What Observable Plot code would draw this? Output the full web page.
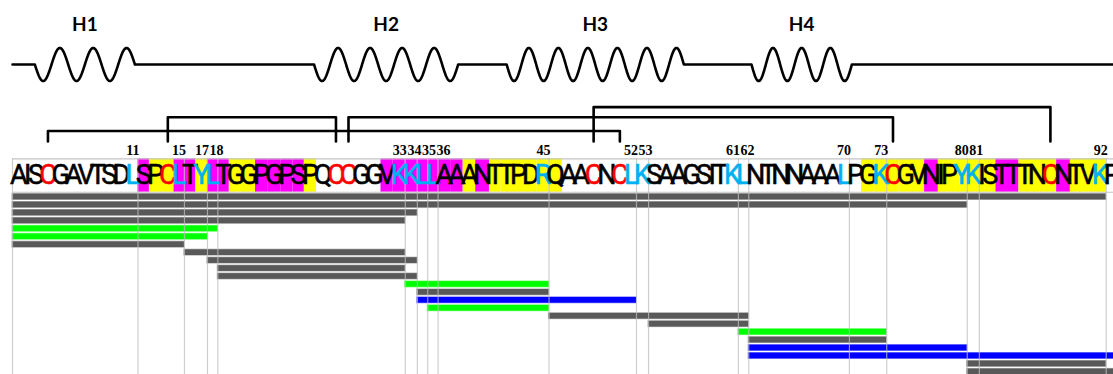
<!DOCTYPE html>
<html><head><meta charset="utf-8">
<script src="https://cdn.jsdelivr.net/npm/d3@7"></script>
<script src="https://cdn.jsdelivr.net/npm/@observablehq/plot@0.6"></script>
<style>
body{margin:0;background:#fff}
#chart{width:1113px;height:374px;overflow:hidden}
</style>
</head><body><div id="chart"></div>
<script>
// ---------------- data ----------------
const sequence = "AISCGAVTSDL" + "SPCLTYLTGGPGPSP" + "QCCGG" + "VKKLLAA" + "A" + "N" + "TTPDRQ" +
  "AACNCLKSAAGSITKLNTNNAAALP" + "GKCGV" + "N" + "IPYKIS" + "TT" + "TNC" + "N" + "TVK" + "P";
// residue background class: m = magenta, y = yellow, . = none
const highlight = "..........." + "myymmymmyymmmmy" + "....." + "mmmmmmm" + "y" + "m" + "yyyyyy" +
  "........................." + "yyyyy" + "m" + "yyyyyy" + "mm" + "yyy" + "m" + "yyy" + ".";
const siteLabels = [11, 15, 17, 18, 33, 34, 35, 36, 45, 52, 53, 61, 62, 70, 73, 80, 81, 92];

const helixNames = ["H1", "H2", "H3", "H4"];
const helixStart = [2.4, 25.8, 41.5, 62.2];
const helixEnd = [10.7, 37.6, 55.9, 70.2];
const helixHalfTurns = [6, 9, 12, 7];

const bondFrom = [4, 14, 29, 49];
const bondTo = [51, 28, 74, 88];

const pepStart = [1, 1, 1, 1, 1, 1, 1, 16, 18, 19, 19, 34, 35, 35, 36, 46, 54, 62, 63, 63, 63, 81, 81];
const pepEnd   = [92, 80, 34, 33, 18, 17, 15, 33, 34, 33, 34, 45, 45, 52, 45, 62, 62, 73, 73, 80, 93, 92, 93];
const pepType  = ["grey","grey","grey","grey","green","green","grey","grey","grey","grey","grey",
                  "green","grey","blue","green","grey","grey","green","grey","blue","blue","grey","grey"];

// ---------------- styles / layout ----------------
const typeColor = {grey: "#595959", green: "#00ff00", blue: "#0000ff"};
const hlColor = {m: "#ff00ff", y: "#ffff00"};
const RED = "#ff0000", CYAN = "#00b0f0";
const W = 1113, H = 374;
// vertical layout in "peptide row" units
const L = {
  yTop: -24.72, yBottom: 22.33,
  helixLabel: -21.7, helixBase: -16.67, helixAmp: 2.08,
  bondTier: [-8.30, -10.04, -10.04, -11.31], legBottom: -6.98,
  labelMid: -5.79, boxTop: -4.80, boxBottom: -0.60, seqMid: -2.74,
  barHalf: 0.36
};
const seqLeft = 12, seqRight92 = 1105.7;
const seqFont = "'Liberation Sans Narrow', Roboto, sans-serif", seqSize = 27, seqWeight = 400, glyphFill = 0.95;

// ---------------- text measurement (same renderer as the chart) ----------------
function measure(strings, family, size, weight) {
  const ns = "http://www.w3.org/2000/svg";
  const s = document.createElementNS(ns, "svg");
  s.setAttribute("width", 10); s.setAttribute("height", 10);
  s.style.position = "absolute"; s.style.left = "-9999px";
  document.body.appendChild(s);
  const out = strings.map(str => {
    const t = document.createElementNS(ns, "text");
    t.setAttribute("font-family", family);
    t.setAttribute("font-size", size);
    t.setAttribute("font-weight", weight);
    t.textContent = str;
    s.appendChild(t);
    return t.getComputedTextLength();
  });
  s.remove();
  return out;
}

// ---------------- derived ----------------
const widths = measure(Array.from(sequence), seqFont, seqSize, seqWeight);
const squeeze = (seqRight92 - seqLeft) / d3.sum(widths.slice(0, 92));
const bounds = [seqLeft];
widths.forEach(v => bounds.push(bounds[bounds.length - 1] + v * squeeze));
const xDomain = d3.range(sequence.length + 1);
const xs = d3.scaleLinear().domain(xDomain).range(bounds);

const residues = Array.from(sequence, (aa, k) => ({
  i: k + 1, aa, hl: highlight[k],
  color: aa === "C" ? RED : siteLabels.includes(k + 1) ? CYAN : "#000"
}));

const labelWidths = measure(siteLabels.map(String), "Liberation Serif", 14, "bold");
let prevRight = -Infinity;
const labelData = siteLabels.map((n, j) => {
  const wl = labelWidths[j];
  let right = xs(n) + 1.5;
  if (right - wl < prevRight + 0.6) right = prevRight + 0.6 + wl;
  prevRight = right;
  return {n, x: xs.invert(right)};
});

const peptides = pepStart.map((s, r) => ({start: s, end: pepEnd[r], type: pepType[r], row: r}));

// helix backbone path (in residue units)
const backbone = [{x: 0, y: L.helixBase}];
helixNames.forEach((name, h) => {
  const p0 = xs(helixStart[h]), p1 = xs(helixEnd[h]), k = helixHalfTurns[h];
  const n = 40 * k;
  for (let j = 0; j <= n; j++) {
    const t = j / n, th = -Math.PI / 2 + t * k * Math.PI;
    backbone.push({x: xs.invert(p0 + t * (p1 - p0)), y: L.helixBase + L.helixAmp * Math.cos(th)});
  }
});
backbone.push({x: sequence.length + 1, y: L.helixBase});

const helices = helixNames.map((name, h) => ({name, x: (xs.invert((xs(helixStart[h]) + xs(helixEnd[h])) / 2))}));

const bondPts = [];
bondFrom.forEach((a, b) => {
  const c1 = a - 0.5, c2 = bondTo[b] - 0.5, tier = L.bondTier[b];
  bondPts.push({b, x: c1, y: L.legBottom}, {b, x: c1, y: tier}, {b, x: c2, y: tier}, {b, x: c2, y: L.legBottom});
});

// ---------------- plot ----------------
const plot = Plot.plot({
  width: W, height: H, margin: 0,
  x: {type: "linear", domain: xDomain, range: bounds, axis: null},
  y: {type: "linear", domain: [L.yTop, L.yBottom], range: [0, H], axis: null},
  color: {type: "identity"},
  style: {background: "#fff"},
  marks: [
    Plot.rect(residues.filter(d => d.hl !== "."), {
      x1: d => d.i - 1, x2: d => d.i, y1: () => L.boxTop, y2: () => L.boxBottom,
      fill: d => hlColor[d.hl]
    }),
    Plot.ruleY([L.boxTop, L.boxBottom], {x1: 0, x2: sequence.length + 1, stroke: "#c4c4c4", strokeWidth: 1.2}),
    Plot.rect(peptides, {
      x1: d => d.start - 1, x2: d => d.end,
      y1: d => d.row - L.barHalf, y2: d => d.row + L.barHalf,
      fill: d => typeColor[d.type], stroke: d => typeColor[d.type], strokeOpacity: 0.45, strokeWidth: 1.2
    }),
    Plot.ruleX([0, ...siteLabels], {y1: L.boxTop, y2: L.yBottom, stroke: "#bdbdbd", strokeOpacity: 0.75, strokeWidth: 1.2}),
    Plot.text(residues, {
      x: d => d.i - 0.5, y: () => L.seqMid, text: "aa", fill: "color", stroke: "color", strokeWidth: 0.55,
      fontSize: seqSize, fontFamily: seqFont, fontWeight: seqWeight, ariaLabel: "residues"
    }),
    Plot.text(labelData, {
      x: "x", y: () => L.labelMid, text: d => String(d.n), textAnchor: "end",
      fontSize: 14, fontWeight: "bold", fontFamily: "Liberation Serif", fill: "#000"
    }),
    Plot.line(bondPts, {x: "x", y: "y", z: "b", stroke: "#000", strokeWidth: 2.6, strokeLinejoin: "round"}),
    Plot.line(backbone, {x: "x", y: "y", stroke: "#000", strokeWidth: 2.6, strokeLinejoin: "round", curve: "linear"}),
    Plot.text(helices, {
      x: "x", y: () => L.helixLabel, text: "name", fontSize: 19, fontWeight: "bold",
      fontFamily: "Lato", fill: "#000", ariaLabel: "helixnames"
    })
  ]
});

// fit each residue glyph to its cell width (horizontal condensation of the font)
plot.querySelectorAll('g[aria-label="residues"] text').forEach((t, k) => {
  t.setAttribute("textLength", (widths[k] * squeeze * glyphFill).toFixed(2));
  t.setAttribute("lengthAdjust", "spacingAndGlyphs");
});
plot.querySelectorAll('g[aria-label="helixnames"] text').forEach(t => {
  t.setAttribute("textLength", t.textContent.length * 10.5);
  t.setAttribute("lengthAdjust", "spacingAndGlyphs");
});
document.getElementById("chart").appendChild(plot);
</script>
</body></html>
